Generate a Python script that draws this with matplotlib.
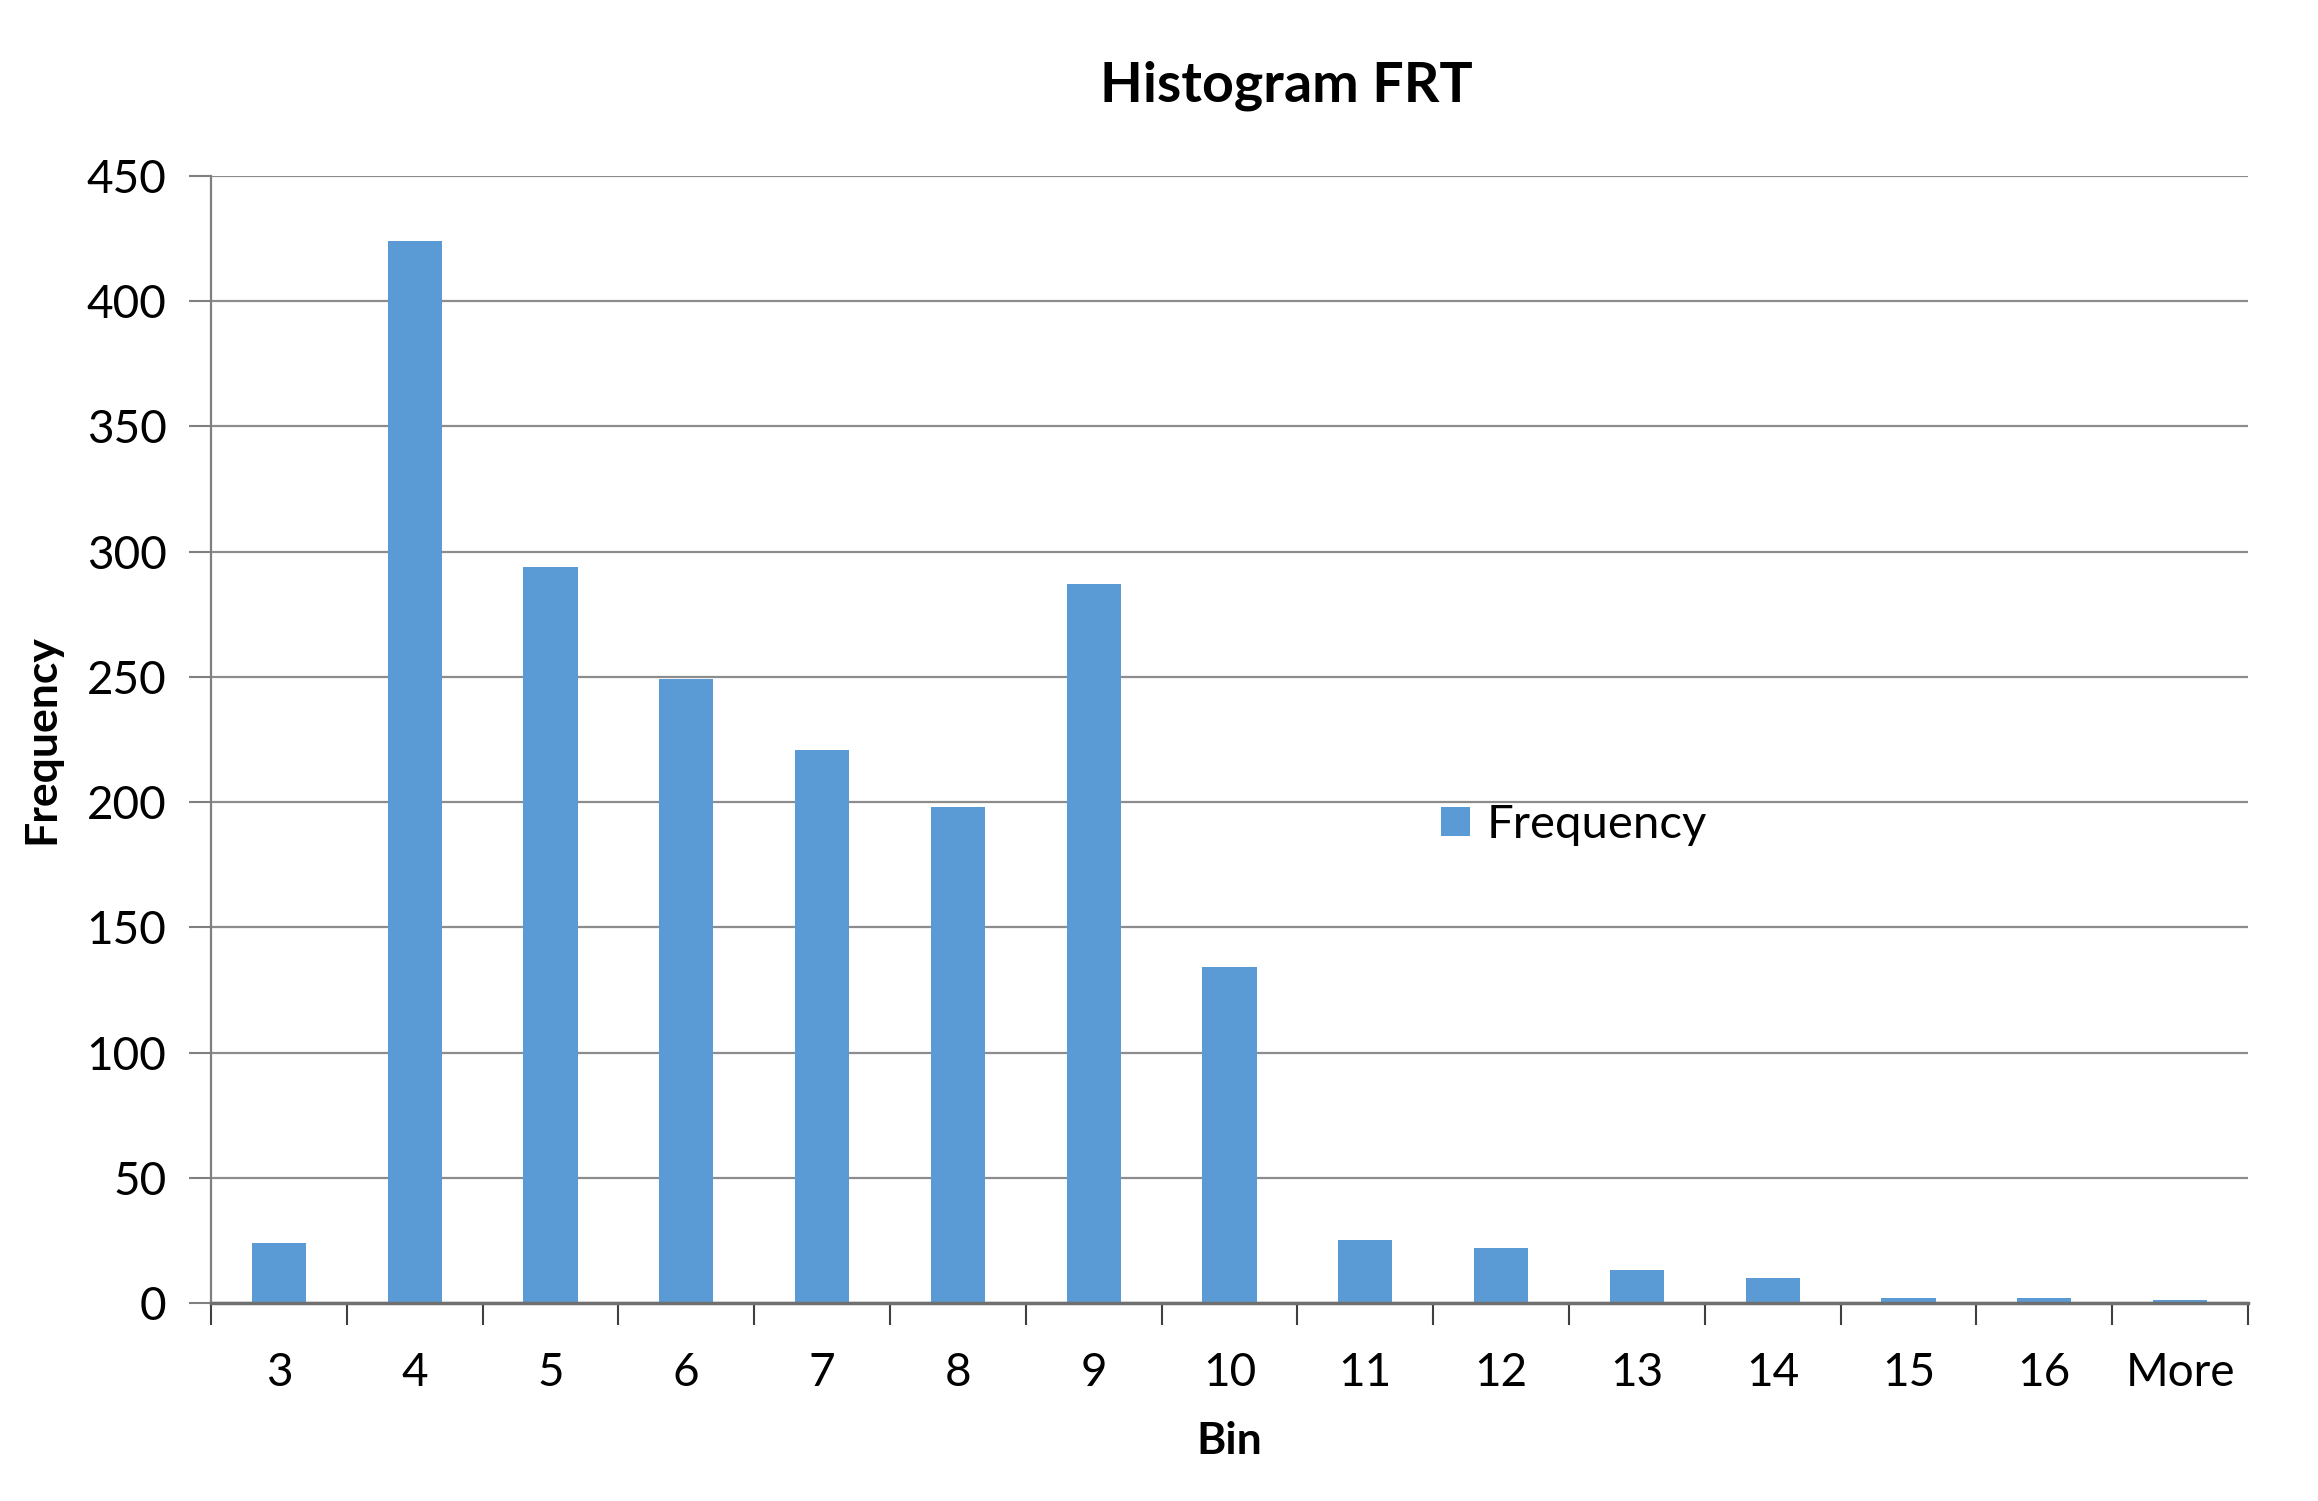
import matplotlib
matplotlib.use("Agg")
import matplotlib.pyplot as plt
import numpy as np

# Histogram counts
BINS = ["3", "4", "5", "6", "7", "8", "9", "10", "11", "12", "13", "14", "15", "16", "More"]
FREQUENCY = [24, 424, 294, 249, 221, 198, 287, 134, 25, 22, 13, 10, 2, 2, 1]
Y_TICKS = [0, 50, 100, 150, 200, 250, 300, 350, 400, 450]

BAR_COLOR = "#5B9BD5"
GRID_COLOR = "#8C8C8C"
AXIS_COLOR = "#7F7F7F"

plt.rcParams["font.family"] = ["Lato", "DejaVu Sans"]

fig = plt.figure(figsize=(23.18, 15.01), dpi=100)
ax = fig.add_axes([211 / 2318, 1 - 1303 / 1501, (2248 - 211) / 2318, (1303 - 176) / 1501])

x = np.arange(len(BINS))
ax.bar(x, FREQUENCY, width=0.4, color=BAR_COLOR, label="Frequency", zorder=3)

ax.set_xlim(-0.5, len(BINS) - 0.5)
ax.set_ylim(0, 450)
ax.set_yticks(Y_TICKS)
ax.set_yticklabels([str(v) for v in Y_TICKS], fontsize=33)
ax.set_xticks(x)
ax.set_xticklabels(BINS, fontsize=33)
ax.set_xticks(np.arange(-0.5, len(BINS), 1.0), minor=True)

ax.tick_params(axis="x", which="major", length=0, pad=35)
ax.tick_params(axis="x", which="minor", length=16, width=1.5, color="#404040")
ax.tick_params(axis="y", length=16, width=1.5, color=AXIS_COLOR, pad=16)

ax.grid(axis="y", color=GRID_COLOR, linewidth=1.6, zorder=0)
ax.set_axisbelow(True)

for side in ["top", "right"]:
    ax.spines[side].set_visible(False)
ax.spines["left"].set_color(AXIS_COLOR)
ax.spines["left"].set_linewidth(1.6)
ax.spines["bottom"].set_color("#6F6F6F")
ax.spines["bottom"].set_linewidth(2.5)
ax.spines["bottom"].set_zorder(4)

ax.set_xlabel("Bin", fontsize=32, fontweight="bold", labelpad=20)
ax.set_ylabel("Frequency", fontsize=32, fontweight="bold", labelpad=18)

fig.text(1286 / 2318, 1 - 86 / 1501, "Histogram FRT", fontsize=40, fontweight="bold",
         ha="center", va="center")

ax.legend(loc="center left", bbox_to_anchor=(0.604, 0.424), frameon=False,
          fontsize=34, handlelength=0.6, handleheight=0.6, handletextpad=0.35,
          borderpad=0, borderaxespad=0)

fig.savefig("out.png", dpi=100, facecolor="white")
